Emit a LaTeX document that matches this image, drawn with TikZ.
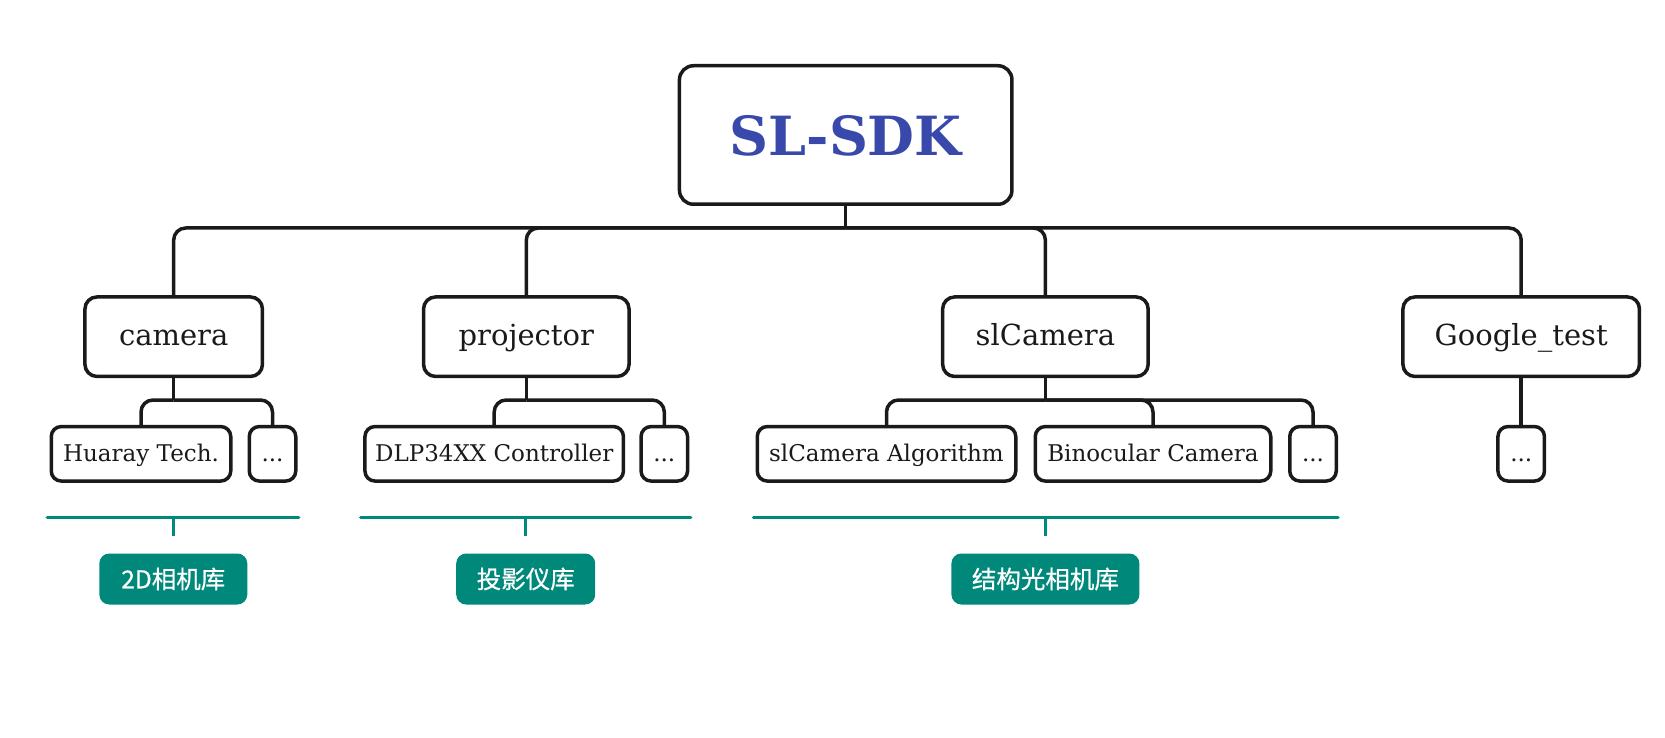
\documentclass[tikz,border=0pt]{standalone}
\usepackage{fontspec}
\setmainfont{DejaVu Serif}
\newfontfamily\cjk[FakeBold=0.6]{Noto Sans CJK SC}
\definecolor{ink}{HTML}{1A1A1A}
\definecolor{tealc}{HTML}{00897B}
\definecolor{sdkblue}{HTML}{3949AB}
\begin{document}
\begin{tikzpicture}[x=1pt,y=1pt,
  box/.style={draw=ink, line width=3.5pt, rounded corners=12pt, fill=white, inner sep=0pt, text=ink, align=center},
  lone/.style={box, minimum height=79.5pt, text height=20pt, text depth=2pt, font=\fontsize{29}{34}\selectfont},
  ltwo/.style={box, rounded corners=10pt, minimum height=54.5pt, text height=17pt, text depth=1.2pt, font=\fontsize{23}{28}\selectfont},
  conn/.style={draw=ink, line width=3.5pt, rounded corners=12pt},
  stem/.style={draw=ink, line width=3.5pt},
  bracket/.style={draw=tealc, line width=3.5pt, line cap=round},
  tick/.style={draw=tealc, line width=3.5pt},
  tag/.style={fill=tealc, rounded corners=10pt, text=white, font=\cjk\fontsize{24.5}{29}\selectfont, minimum height=51pt, inner sep=0pt}
]
\useasboundingbox (0,0) rectangle (1665,-738);

% root
\node[box, rounded corners=14pt, minimum width=332.5pt, minimum height=138.5pt,
      text height=44pt, text depth=2pt,
      font=\bfseries\fontsize{54}{60}\selectfont, text=sdkblue] (root) at (845.7,-135) {SL-SDK};

% level 1
\node[lone, minimum width=177.5pt] (camera) at (173.7,-336.7) {camera};
\node[lone, minimum width=205.5pt] (projector) at (526.3,-336.7) {projector};
\node[lone, minimum width=205.5pt] (slcam) at (1045.4,-336.7) {slCamera};
\node[lone, minimum width=236.5pt] (google) at (1521.2,-336.7) {Google\_test};

\coordinate (bus) at (845.7,-228);
\draw[stem] (root.south) -- (bus);
\draw[conn] (bus) -| (camera.north);
\draw[conn] (bus) -| (projector.north);
\draw[conn] (bus) -| (slcam.north);
\draw[conn] (bus) -| (google.north);

% level 2
\node[ltwo, minimum width=179.5pt] (huaray) at (141,-453.8) {Huaray Tech.};
\node[ltwo, minimum width=46.5pt] (dotsa) at (272.5,-453.8) {...};
\node[ltwo, minimum width=258.5pt] (dlp) at (494.2,-453.8) {DLP34XX Controller};
\node[ltwo, minimum width=46.5pt] (dotsb) at (664.3,-453.8) {...};
\node[ltwo, minimum width=258.5pt] (algo) at (886.5,-453.8) {slCamera Algorithm};
\node[ltwo, minimum width=235.5pt] (bino) at (1153,-453.8) {Binocular Camera};
\node[ltwo, minimum width=46.5pt] (dotsc) at (1313,-453.8) {...};
\node[ltwo, minimum width=46.5pt] (dotsd) at (1521.2,-453.8) {...};

\coordinate (cbus) at (173.7,-400);
\draw[stem] (camera.south) -- (cbus);
\draw[conn] (cbus) -| (huaray.north);
\draw[conn] (cbus) -| (dotsa.north);

\coordinate (pbus) at (526.3,-400);
\draw[stem] (projector.south) -- (pbus);
\draw[conn] (pbus) -| (dlp.north);
\draw[conn] (pbus) -| (dotsb.north);

\coordinate (sbus) at (1045.4,-400);
\draw[stem] (slcam.south) -- (sbus);
\draw[conn] (sbus) -| (algo.north);
\draw[conn] (sbus) -| (bino.north);
\draw[conn] (sbus) -| (dotsc.north);

\draw[stem] (google.south) -- (dotsd.north);

% teal brackets and tags
\coordinate (ga) at (47.3,-517.7);
\coordinate (gb) at (298.7,-517.7);
\coordinate (gm) at (173.3,-517.7);
\coordinate (gt) at (173.3,-536);
\draw[bracket] (ga) -- (gb);
\draw[tick] (gm) -- (gt);
\node[tag, minimum width=148pt] (taga) at (173.3,-579) {2D相机库};

\coordinate (ha) at (360.7,-517.7);
\coordinate (hb) at (690.7,-517.7);
\coordinate (hm) at (525.7,-517.7);
\coordinate (ht) at (525.7,-536);
\draw[bracket] (ha) -- (hb);
\draw[tick] (hm) -- (ht);
\node[tag, minimum width=139pt] (tagb) at (525.7,-579) {投影仪库};

\coordinate (ka) at (753.5,-517.7);
\coordinate (kb) at (1338,-517.7);
\coordinate (km) at (1045.4,-517.7);
\coordinate (kt) at (1045.4,-536);
\draw[bracket] (ka) -- (kb);
\draw[tick] (km) -- (kt);
\node[tag, minimum width=188pt] (tagc) at (1045.4,-579) {结构光相机库};
\end{tikzpicture}
\end{document}
